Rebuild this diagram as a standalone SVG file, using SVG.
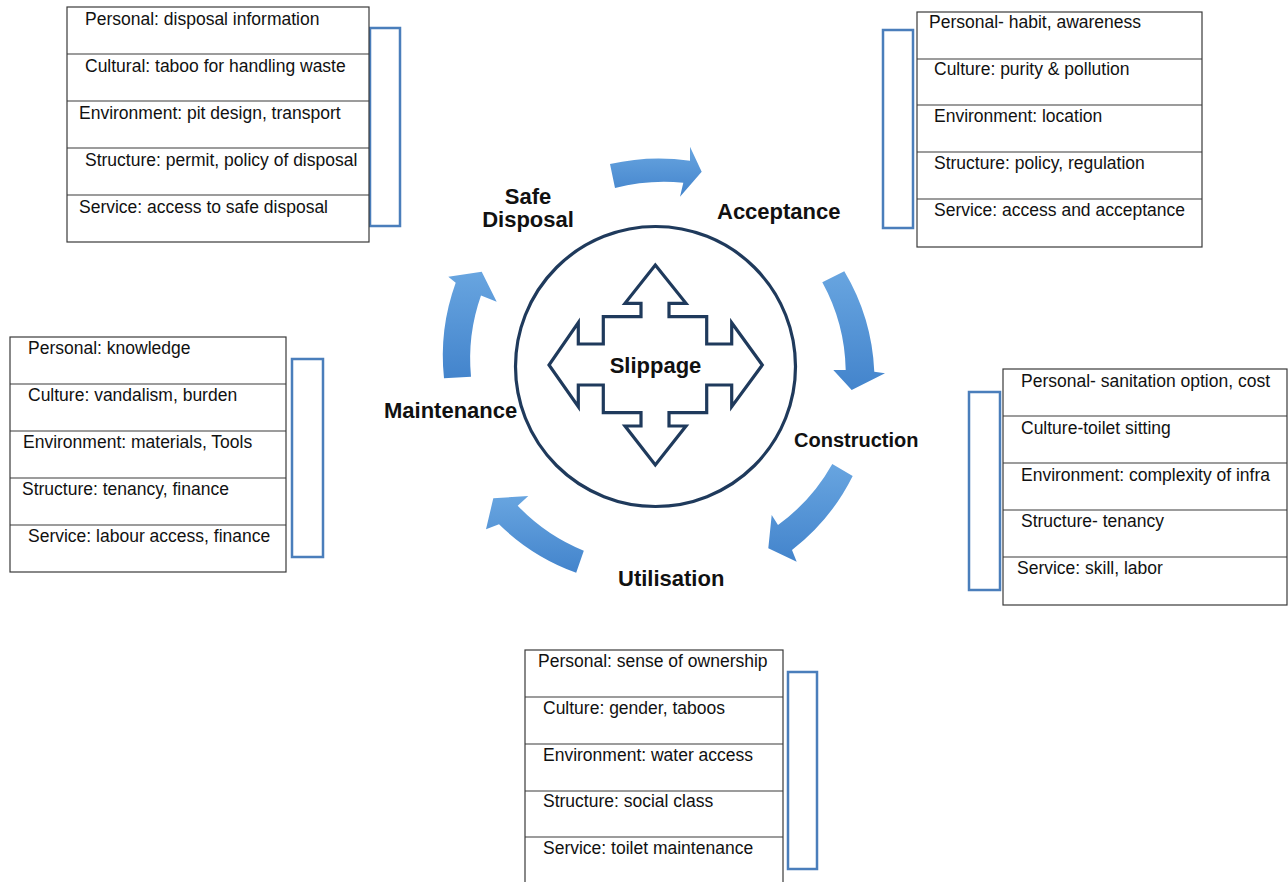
<svg xmlns="http://www.w3.org/2000/svg" width="1288" height="882" viewBox="0 0 1288 882">
<defs>
<linearGradient id="ag" x1="0" y1="0" x2="0" y2="1">
<stop offset="0" stop-color="#68a5e0"/>
<stop offset="1" stop-color="#4384cc"/>
</linearGradient>
<style>
.box{fill:#fff;stroke:#3a3a3a;stroke-width:1.2}
.row{stroke:#3a3a3a;stroke-width:1.2}
.br{fill:none;stroke:#4a7ebb;stroke-width:2.5}
.t{font-family:"Liberation Sans",Arial,sans-serif;font-size:17.5px;fill:#111}
.lbl{font-family:"Liberation Sans",Arial,sans-serif;font-size:22px;font-weight:bold;fill:#111}
.arr{fill:url(#ag)}
.navy{fill:#fff;stroke:#1f3a5c;stroke-width:3.2;stroke-linejoin:miter}
</style>
</defs>
<rect width="1288" height="882" fill="#fff"/>

<g id="connectors">
<path class="arr" d="M 610,164 A 216 216 0 0 1 690,160.7 L 690,146.7 L 701.7,171.7 L 680,196.7 L 683.3,182.7 A 196 196 0 0 0 615,188 Z"/>
<path class="arr" d="M 844.3,271.2 A 214 214 0 0 1 874.3,371.7 L 885,373.3 L 851.7,390 L 833.3,370 L 845.7,370 A 190 190 0 0 0 822.3,282.2 Z"/>
<path class="arr" d="M 852.7,476 A 214 214 0 0 1 792,550 L 796.7,561.7 L 768.3,548.3 L 771.7,515 L 778,525 A 190 190 0 0 0 832.3,464 Z"/>
<path class="arr" d="M 576.2,572.7 A 214 214 0 0 1 499,524.3 L 486,529.3 L 493.3,498.3 L 528.3,496 L 517.7,505.7 A 190 190 0 0 0 583.8,550.7 Z"/>
<path class="arr" d="M 444,378.3 A 214 214 0 0 1 455.7,282.8 L 448.3,276.7 L 481.7,271.7 L 496.7,301.7 L 481,295.5 A 190 190 0 0 0 471,376.7 Z"/>
</g>

<g id="slippage">
<circle class="navy" cx="655.5" cy="366.5" r="140"/>
<path class="navy" d="M 655.3,265 L 686,303.3 L 669,303.3 L 669,316.7 L 706.7,316.7 L 706.7,344 L 731.7,344 L 731.7,322.7 L 762.3,365 L 731.7,406.7 L 731.7,385 L 706.7,385 L 706.7,412.7 L 669,412.7 L 669,426 L 686,426 L 655.3,465 L 625,426 L 641,426 L 641,412.7 L 603.3,412.7 L 603.3,385 L 578.3,385 L 578.3,406.7 L 549,365 L 578.3,322.7 L 578.3,344 L 603.3,344 L 603.3,316.7 L 641,316.7 L 641,303.3 L 625,303.3 Z"/>
<text class="lbl" x="655.5" y="373" text-anchor="middle">Slippage</text>
</g>

<g id="label-safe-disposal">
<text class="lbl" x="528" y="204" text-anchor="middle">Safe</text>
<text class="lbl" x="528" y="227" text-anchor="middle">Disposal</text>
</g>
<g id="label-acceptance"><text class="lbl" x="717" y="219">Acceptance</text></g>
<g id="label-construction"><text class="lbl" x="794" y="447" style="font-size:20px">Construction</text></g>
<g id="label-utilisation"><text class="lbl" x="618" y="586">Utilisation</text></g>
<g id="label-maintenance"><text class="lbl" x="384" y="418">Maintenance</text></g>

<g id="box-safe-disposal">
<rect class="br" x="370" y="28" width="30" height="198"/>
<rect class="box" x="67" y="7" width="302" height="235"/>
<line class="row" x1="67" y1="54" x2="369" y2="54"/>
<line class="row" x1="67" y1="101" x2="369" y2="101"/>
<line class="row" x1="67" y1="148" x2="369" y2="148"/>
<line class="row" x1="67" y1="195" x2="369" y2="195"/>
<text class="t" x="85" y="25">Personal: disposal information</text>
<text class="t" x="85" y="72">Cultural: taboo for handling waste</text>
<text class="t" x="79" y="119">Environment: pit design, transport</text>
<text class="t" x="85" y="166">Structure: permit, policy of disposal</text>
<text class="t" x="79" y="213">Service: access to safe disposal</text>
</g>

<g id="box-acceptance">
<rect class="br" x="883" y="30" width="30" height="198"/>
<rect class="box" x="917" y="12" width="285" height="235"/>
<line class="row" x1="917" y1="59" x2="1202" y2="59"/>
<line class="row" x1="917" y1="105" x2="1202" y2="105"/>
<line class="row" x1="917" y1="152" x2="1202" y2="152"/>
<line class="row" x1="917" y1="199" x2="1202" y2="199"/>
<text class="t" x="929" y="28">Personal- habit, awareness</text>
<text class="t" x="934" y="75">Culture: purity &amp; pollution</text>
<text class="t" x="934" y="122">Environment: location</text>
<text class="t" x="934" y="169">Structure: policy, regulation</text>
<text class="t" x="934" y="216">Service: access and acceptance</text>
</g>

<g id="box-construction">
<rect class="br" x="969" y="392" width="31" height="198"/>
<rect class="box" x="1003" y="369" width="284" height="236"/>
<line class="row" x1="1003" y1="416" x2="1287" y2="416"/>
<line class="row" x1="1003" y1="463" x2="1287" y2="463"/>
<line class="row" x1="1003" y1="510" x2="1287" y2="510"/>
<line class="row" x1="1003" y1="557" x2="1287" y2="557"/>
<text class="t" x="1021" y="387">Personal- sanitation option, cost</text>
<text class="t" x="1021" y="434">Culture-toilet sitting</text>
<text class="t" x="1021" y="481">Environment: complexity of infra</text>
<text class="t" x="1021" y="527">Structure- tenancy</text>
<text class="t" x="1017" y="574">Service: skill, labor</text>
</g>

<g id="box-maintenance">
<rect class="br" x="292" y="359" width="31" height="198"/>
<rect class="box" x="10" y="337" width="276" height="235"/>
<line class="row" x1="10" y1="384" x2="286" y2="384"/>
<line class="row" x1="10" y1="431" x2="286" y2="431"/>
<line class="row" x1="10" y1="478" x2="286" y2="478"/>
<line class="row" x1="10" y1="525" x2="286" y2="525"/>
<text class="t" x="28" y="354">Personal: knowledge</text>
<text class="t" x="28" y="401">Culture: vandalism, burden</text>
<text class="t" x="23" y="448">Environment: materials, Tools</text>
<text class="t" x="22" y="495">Structure: tenancy, finance</text>
<text class="t" x="28" y="542">Service: labour access, finance</text>
</g>

<g id="box-utilisation">
<rect class="br" x="788" y="672" width="29" height="197"/>
<rect class="box" x="525" y="650" width="258" height="240"/>
<line class="row" x1="525" y1="697" x2="783" y2="697"/>
<line class="row" x1="525" y1="744" x2="783" y2="744"/>
<line class="row" x1="525" y1="791" x2="783" y2="791"/>
<line class="row" x1="525" y1="837" x2="783" y2="837"/>
<text class="t" x="538" y="667">Personal: sense of ownership</text>
<text class="t" x="543" y="714">Culture: gender, taboos</text>
<text class="t" x="543" y="761">Environment: water access</text>
<text class="t" x="543" y="807">Structure: social class</text>
<text class="t" x="543" y="854">Service: toilet maintenance</text>
</g>
</svg>
